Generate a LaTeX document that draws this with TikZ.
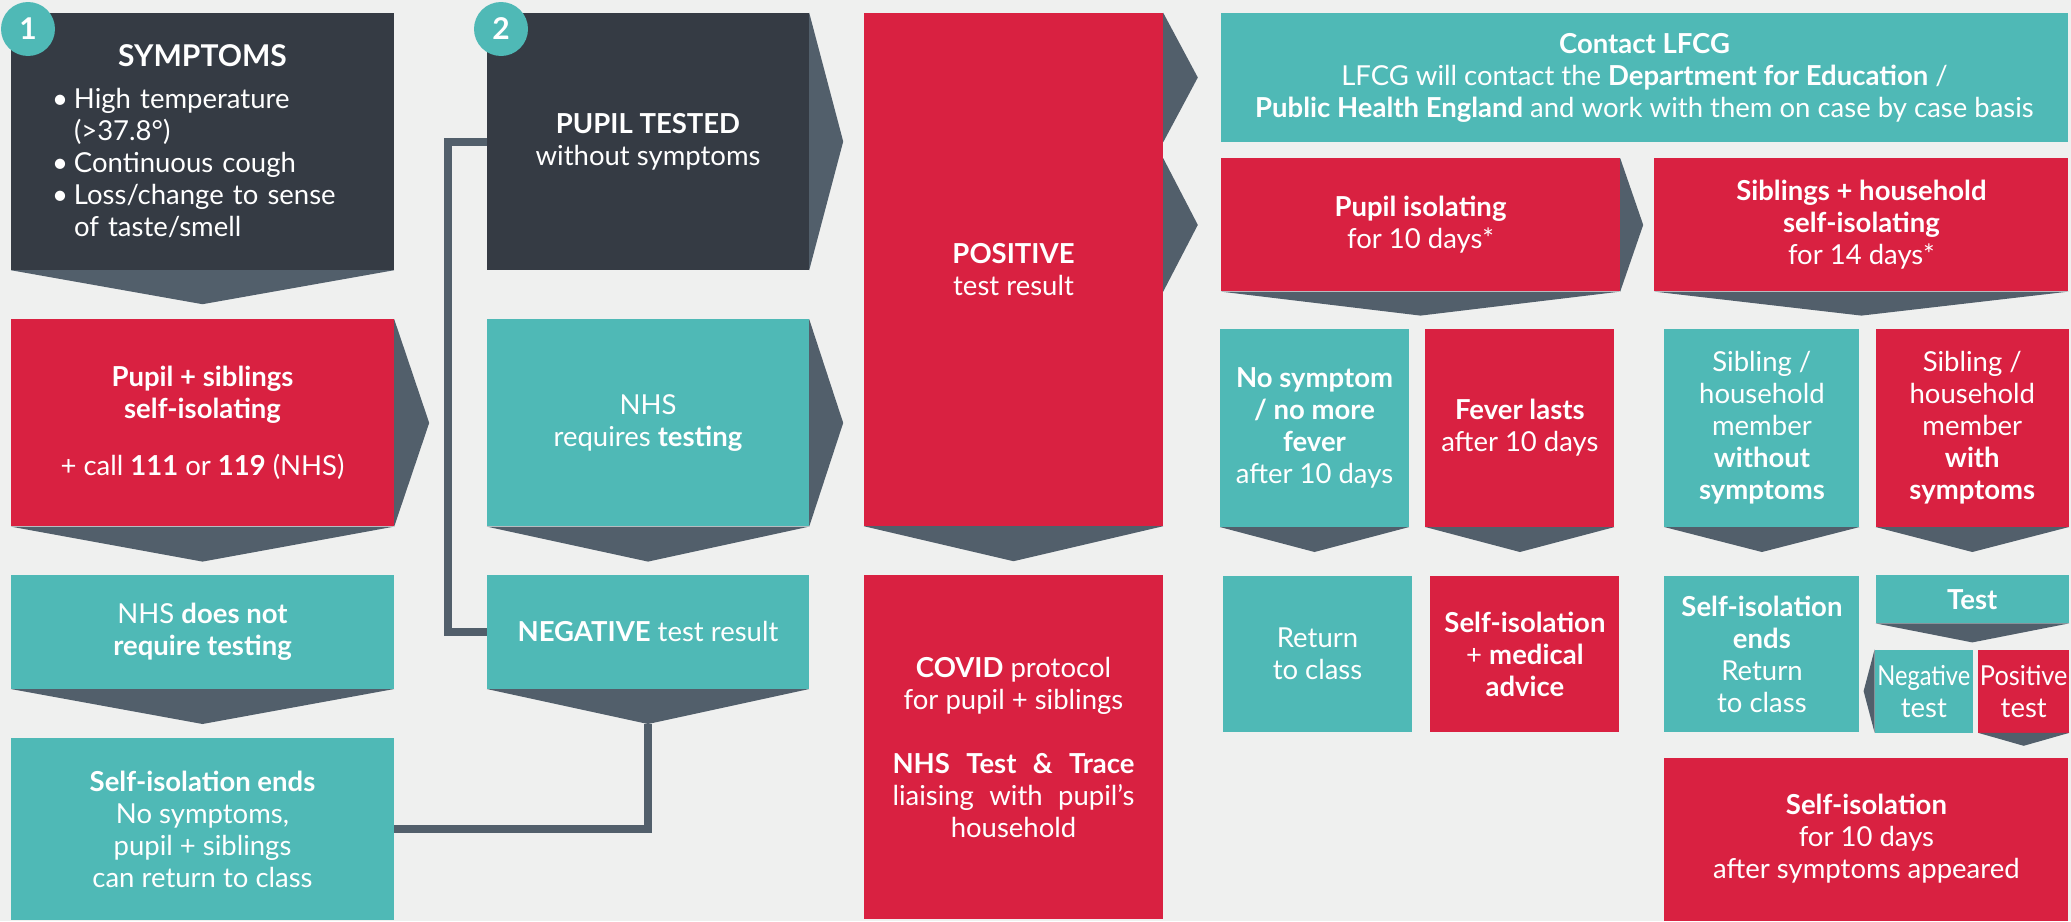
\documentclass[tikz,border=0pt]{standalone}
\usepackage{fontspec}
\setmainfont{Lato}
\newfontfamily\narrow[FakeStretch=0.86]{Lato}
\newfontfamily\slim[FakeStretch=0.92]{Lato}
\usetikzlibrary{positioning}

\definecolor{paper}{HTML}{EFF0EF}
\definecolor{slate}{HTML}{353B44}
\definecolor{chevron}{HTML}{525F6B}
\definecolor{crimson}{HTML}{D92141}
\definecolor{sea}{HTML}{4FB9B6}

\begin{document}
\begin{tikzpicture}[x=1pt, y=-1pt]
        \tikzstyle{box} = [rectangle, inner sep=0pt, align=center, text=white, font=\fontsize{27.5}{32}\selectfont]
        \tikzstyle{darkbox} = [box, fill=slate]
        \tikzstyle{redbox} = [box, fill=crimson]
        \tikzstyle{seabox} = [box, fill=sea]
        \tikzstyle{badge} = [circle, fill=sea, minimum size=54pt, inner sep=0pt, text=white, font=\fontsize{30}{30}\selectfont\bfseries]
        \tikzstyle{chev} = [fill=chevron]
        \tikzstyle{link} = [draw=chevron, line width=8pt]

        \fill[paper] (0,0) rectangle (2071,921);
        \useasboundingbox (0,0) rectangle (2071,921);

        % column 1
        \node (symptoms) [darkbox, minimum width=383pt, minimum height=257pt, text width=301pt, align=left] at (202.5,141.5)
            {\centering{\fontsize{30}{32}\selectfont\bfseries SYMPTOMS}\par\vspace{10pt}\raggedright
             \makebox[22pt][l]{•}High temperature\\
             \hspace*{22pt}(>37.8°)\\
             \makebox[22pt][l]{•}Continuous cough\\
             \makebox[22pt][l]{•}Loss/change to sense\\
             \hspace*{22pt}of taste/smell\par};
        \node (isolate) [redbox, minimum width=383pt, minimum height=207pt, below=49pt of symptoms]
            {\textbf{Pupil + siblings}\\\textbf{self-isolating}\\[25pt]+ call \textbf{111} or \textbf{119} (NHS)};
        \node (nhsnot) [seabox, minimum width=383pt, minimum height=114pt, below=48pt of isolate]
            {NHS \textbf{does not}\\\textbf{require testing}};
        \node (ends) [seabox, minimum width=383pt, minimum height=182pt, below=49pt of nhsnot]
            {\textbf{Self-isolation ends}\\No symptoms,\\pupil + siblings\\can return to class};

        % column 2
        \node (tested) [darkbox, minimum width=322pt, minimum height=257pt] at (648,141.5)
            {\textbf{PUPIL TESTED}\\without symptoms};
        \node (nhsyes) [seabox, minimum width=322pt, minimum height=207pt, below=49pt of tested]
            {NHS\\requires \textbf{testing}};
        \node (negative) [seabox, minimum width=322pt, minimum height=114pt, below=48pt of nhsyes]
            {\textbf{NEGATIVE} test result};

        % column 3
        \node (positive) [redbox, minimum width=299pt, minimum height=513pt] at (1013.5,269.5)
            {\textbf{POSITIVE}\\test result};
        \node (covid) [redbox, minimum width=299pt, minimum height=344pt, below=49pt of positive]
            {\textbf{COVID} protocol\\for pupil + siblings\\[32pt]\makebox[242pt][s]{\textbf{NHS Test \& Trace}}\\\makebox[242pt][s]{liaising with pupil’s}\\household};

        % right part
        \node (contact) [seabox, minimum width=847pt, minimum height=129pt] at (1644.5,77.5)
            {\textbf{Contact LFCG}\\LFCG will contact the \textbf{Department for Education} /\\\textbf{Public Health England} and work with them on case by case basis};
        \node (pupiliso) [redbox, minimum width=399pt, minimum height=133pt, below right=16pt and 0pt of contact.south west]
            {\textbf{Pupil isolating}\\for 10 days*};
        \node (sibiso) [redbox, minimum width=414pt, minimum height=133pt, right=34pt of pupiliso]
            {\textbf{Siblings + household}\\\textbf{self-isolating}\\for 14 days*};

        \node (nosymp) [seabox, minimum width=189pt, minimum height=198pt, below right=37pt and -1pt of pupiliso.south west]
            {\textbf{No symptom}\\\textbf{/ no more}\\\textbf{fever}\\after 10 days};
        \node (fever) [redbox, minimum width=189pt, minimum height=198pt, right=16pt of nosymp]
            {\textbf{Fever lasts}\\after 10 days};
        \node (back) [seabox, minimum width=189pt, minimum height=156pt, below=49pt of nosymp, xshift=3pt]
            {Return\\to class};
        \node (medical) [redbox, minimum width=189pt, minimum height=156pt, below=49pt of fever, xshift=5pt]
            {\textbf{Self-isolation}\\+ \textbf{medical}\\\textbf{advice}};

        \node (sibwithout) [seabox, minimum width=195pt, minimum height=198pt, below right=37pt and 10pt of sibiso.south west]
            {Sibling /\\household\\member\\\textbf{without}\\\textbf{symptoms}};
        \node (sibwith) [redbox, minimum width=193pt, minimum height=198pt, right=16pt of sibwithout]
            {Sibling /\\household\\member\\\textbf{with}\\\textbf{symptoms}};
        \node (sibends) [seabox, minimum width=195pt, minimum height=156pt, below=49pt of sibwithout]
            {\textbf{Self-isolation}\\\textbf{ends}\\Return\\to class};
        \node (test) [seabox, minimum width=193pt, minimum height=48pt, below=48pt of sibwith]
            {\textbf{Test}};
        \node (negtest) [seabox, minimum width=98pt, minimum height=83pt, below right=26pt and -1pt of test.south west]
            {{\narrow Negative}\\test};
        \node (postest) [redbox, minimum width=91pt, minimum height=83pt, right=5pt of negtest]
            {{\slim Positive}\\test};
        \node (tenday) [redbox, minimum width=404pt, minimum height=163pt, below right=25pt and 0pt of sibends.south west]
            {\textbf{Self-isolation}\\for 10 days\\after symptoms appeared};

        % badges
        \node (one) [badge] at (28,29) {1};
        \node (two) [badge] at (501,29) {2};

        % chevrons
        \fill[chev] (symptoms.south west) -- (symptoms.south east) -- ([yshift=-34pt]symptoms.south) -- cycle;
        \fill[chev] (isolate.south west) -- (isolate.south east) -- ([yshift=-35pt]isolate.south) -- cycle;
        \fill[chev] (isolate.north east) -- ([xshift=35pt]isolate.east) -- (isolate.south east) -- cycle;
        \fill[chev] (nhsnot.south west) -- (nhsnot.south east) -- ([yshift=-35pt]nhsnot.south) -- cycle;
        \fill[chev] (tested.north east) -- ([xshift=34pt]tested.east) -- (tested.south east) -- cycle;
        \fill[chev] (nhsyes.north east) -- ([xshift=34pt]nhsyes.east) -- (nhsyes.south east) -- cycle;
        \fill[chev] (nhsyes.south west) -- (nhsyes.south east) -- ([yshift=-35pt]nhsyes.south) -- cycle;
        \fill[chev] (negative.south west) -- (negative.south east) -- ([yshift=-35pt]negative.south) -- cycle;
        \fill[chev] (positive.south west) -- (positive.south east) -- ([yshift=-35pt]positive.south) -- cycle;
        \fill[chev] (positive.east |- contact.north) -- ([xshift=-23pt]contact.west) -- (positive.east |- contact.south) -- cycle;
        \fill[chev] (positive.east |- pupiliso.north) -- ([xshift=-23pt]pupiliso.west) -- (positive.east |- pupiliso.south) -- cycle;
        \fill[chev] (pupiliso.north east) -- ([xshift=23pt]pupiliso.east) -- (pupiliso.south east) -- cycle;
        \fill[chev] (pupiliso.south west) -- (pupiliso.south east) -- ([yshift=-24pt]pupiliso.south) -- cycle;
        \fill[chev] (sibiso.south west) -- (sibiso.south east) -- ([yshift=-24pt]sibiso.south) -- cycle;
        \fill[chev] (nosymp.south west) -- (nosymp.south east) -- ([yshift=-25pt]nosymp.south) -- cycle;
        \fill[chev] (fever.south west) -- (fever.south east) -- ([yshift=-25pt]fever.south) -- cycle;
        \fill[chev] (sibwithout.south west) -- (sibwithout.south east) -- ([yshift=-25pt]sibwithout.south) -- cycle;
        \fill[chev] (sibwith.south west) -- (sibwith.south east) -- ([yshift=-25pt]sibwith.south) -- cycle;
        \fill[chev] (test.south west) -- (test.south east) -- ([yshift=-19pt]test.south) -- cycle;
        \fill[chev] (negtest.north west) -- ([xshift=-11pt]negtest.west) -- (negtest.south west) -- cycle;
        \fill[chev] (postest.south west) -- (postest.south east) -- ([yshift=-13pt]postest.south) -- cycle;

        % connectors
        \draw[link] (tested.west) -- ++(-39,0) |- (negative.west);
        \draw[link] (ends.east) -| ([yshift=-35pt]negative.south);
    \end{tikzpicture}
\end{document}
